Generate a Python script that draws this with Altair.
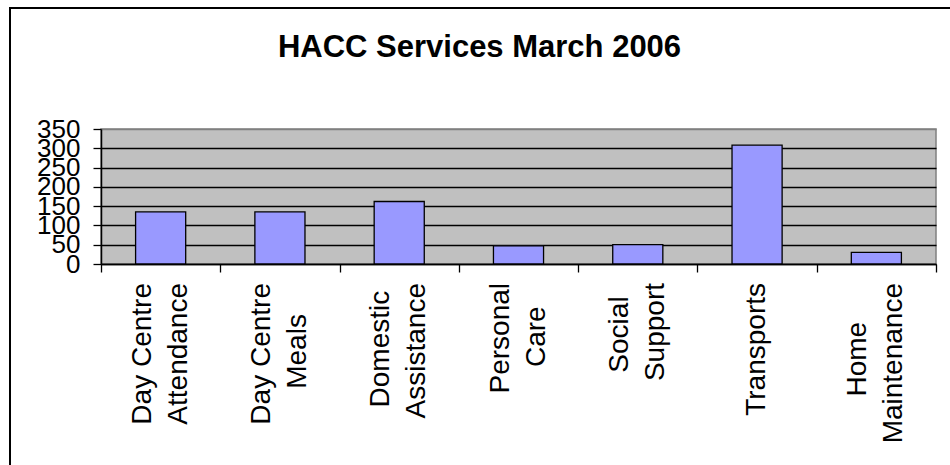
import altair as alt
import pandas as pd

# ---- data ----
CATEGORIES = ["Day Centre Attendance", "Day Centre Meals", "Domestic Assistance",
              "Personal Care", "Social Support", "Transports", "Home Maintenance"]
VALUES = [135, 135, 162, 47, 50, 308, 30]
LABEL_LINES = [["Day Centre", "Attendance"], ["Day Centre", "Meals"],
               ["Domestic", "Assistance"], ["Personal", "Care"],
               ["Social", "Support"], ["Transports"], ["Home", "Maintenance"]]
Y_TICKS = [0, 50, 100, 150, 200, 250, 300, 350]
TITLE = "HACC Services March 2006"

# ---- style ----
FONT = "Liberation Sans"
NB = "\u00a0"
ZW = "\u200b"  # zero-width terminator so the padding is not trimmed away
# trailing non-breaking spaces centre the shorter line of each rotated label
LINE_PAD = {"Meals": NB * 4 + ZW, "Domestic": NB + ZW, "Care": NB * 3 + ZW,
            "Social": NB + "\u2009" + ZW, "Home": NB * 5 + ZW}
LINE_GAP = 18          # half the distance between the two lines of a label
LABEL_TOP = 19         # gap between the x axis line and the top of the labels

W, H = 835, 135
PL, PT = 101, 129

df = pd.DataFrame({"service": CATEGORIES, "count": VALUES})
frame_df = pd.DataFrame({"f": [0]})

rows = []
for cat, lines in zip(CATEGORIES, LABEL_LINES):
    for i, ln in enumerate(lines):
        pos = "single" if len(lines) == 1 else ("first" if i == 0 else "second")
        rows.append({"service": cat, "text": ln + LINE_PAD.get(ln, ""), "pos": pos})
lines_df = pd.DataFrame(rows)

yscale = alt.Scale(domain=[Y_TICKS[0], Y_TICKS[-1]], nice=False, zero=True)
xscale = alt.Scale(paddingInner=0, paddingOuter=0)

X_AXIS = alt.Axis(title=None, labels=False, tickBand="extent", tickSize=8,
                  tickColor="black", tickWidth=1.3, domainColor="black",
                  domainWidth=1.5, grid=False)
Y_AXIS = alt.Axis(title=None, values=Y_TICKS, labelFont=FONT,
                  labelFontSize=26, labelPadding=13, labelOverlap=False,
                  labelFlush=False, labelColor="black",
                  labelBaseline="middle", tickSize=8, tickColor="black",
                  tickWidth=1.3, domainColor="black", domainWidth=1.5,
                  grid=True, gridWidth=1.3,
                  gridColor={"condition": {"test": f"datum.value >= {Y_TICKS[-1]}",
                                           "value": "#808080"},
                             "value": "black"})

def xenc():
    return alt.X("service:N", sort=CATEGORIES, scale=xscale, axis=X_AXIS)

frame = alt.Chart(frame_df).mark_rect(fill="transparent", stroke="black", strokeWidth=2).encode(
    x=alt.value(10 - PL), x2=alt.value(970 - PL),
    y=alt.value(8 - PT), y2=alt.value(480 - PT),
)

bars = alt.Chart(df).mark_bar(
    fill="#9999FF", stroke="black", strokeWidth=1.3, width=alt.RelativeBandSize(0.42)
).encode(
    x=xenc(),
    y=alt.Y("count:Q", scale=yscale, axis=Y_AXIS),
)

def label_layer(pos, dy):
    return alt.Chart(lines_df).transform_filter(
        alt.datum.pos == pos
    ).mark_text(
        angle=270, align="right", baseline="middle", font=FONT, fontSize=28,
        color="black", dy=dy,
    ).encode(
        x=xenc(),
        y=alt.value(H + LABEL_TOP),
        text="text:N",
    )

chart = alt.layer(
    frame, bars,
    label_layer("first", -LINE_GAP),
    label_layer("second", LINE_GAP),
    label_layer("single", 0),
).properties(
    width=W, height=H,
    padding={"left": PL, "top": PT, "right": 950 - PL - W, "bottom": 465 - PT - H},
    autosize=alt.AutoSizeParams(type="none"),
    background="white",
    title=alt.Title(TITLE, font=FONT, fontSize=31, fontWeight="bold", color="black",
                    anchor="middle", frame="group", baseline="alphabetic",
                    offset=-81, dx=-39),
).configure_view(
    fill="#C0C0C0", stroke="#808080", strokeWidth=1.5
)

chart.save("out.html", embed_options={"renderer": "svg", "actions": False})
